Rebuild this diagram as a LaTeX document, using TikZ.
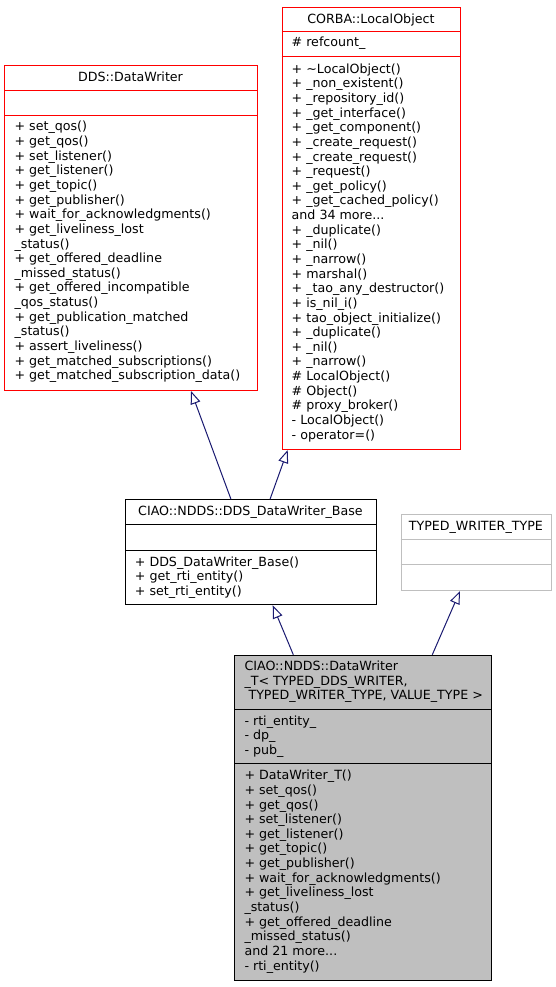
\documentclass[tikz,border=0pt]{standalone}
\usepackage{fontspec}
\setmainfont{DejaVu Sans}
\usetikzlibrary{arrows.meta}
\definecolor{edgeblue}{HTML}{191970}
\definecolor{boxgray}{HTML}{BFBFBF}
\newcommand{\mdots}{...}
\tikzset{
  classbox/.style={draw, line width=1pt, inner sep=0pt, anchor=north west},
  member/.style={anchor=base west, inner sep=0pt},
  classname/.style={anchor=base, inner sep=0pt},
  inherit/.style={edgeblue, line width=1pt, -{Triangle[open, length=13pt, width=10pt]}},
}
\begin{document}
\begin{tikzpicture}[x=1pt, y=-1pt, font=\fontsize{12.65}{14.63}\selectfont]
      \def\dy{14.63}
      \useasboundingbox (0,0) rectangle (556,987);
      %
      % DDS::DataWriter
      \node[classbox, draw=red, minimum width=252.4pt, minimum height=325pt] (dw) at (4.3,65) {};
      \draw[red, line width=1pt] (dw.west |- 0,90.3) -- (dw.east |- 0,90.3);
      \draw[red, line width=1pt] (dw.west |- 0,116) -- (dw.east |- 0,116);
      \node[classname] (dwname) at (130.5,81.7) {DDS::DataWriter};
      \foreach \m [count=\i from 0] in {+ set\_qos(), + get\_qos(), + set\_listener(),
          + get\_listener(), + get\_topic(), + get\_publisher(), + wait\_for\_acknowledgments(),
          + get\_liveliness\_lost, \_status(), + get\_offered\_deadline, \_missed\_status(),
          + get\_offered\_incompatible, \_qos\_status(), + get\_publication\_matched,
          \_status(), + assert\_liveliness(), + get\_matched\_subscriptions(),
          + get\_matched\_subscription\_data()}
        \node[member] (dwm\i) at (14.4,{131+\i*\dy}) {\m};
      %
      % CORBA::LocalObject
      \node[classbox, draw=red, minimum width=178.3pt, minimum height=442.3pt] (corba) at (281.7,6.7) {};
      \draw[red, line width=1pt] (corba.west |- 0,32) -- (corba.east |- 0,32);
      \draw[red, line width=1pt] (corba.west |- 0,57) -- (corba.east |- 0,57);
      \node[classname] (corbaname) at (370.85,23.3) {CORBA::LocalObject};
      \node[member] (corbaa0) at (291.5,46.7) {\# refcount\_};
      \foreach \m [count=\i from 0] in {+ \textasciitilde LocalObject(), + \_non\_existent(),
          + \_repository\_id(), + \_get\_interface(), + \_get\_component(),
          + \_create\_request(), + \_create\_request(), + \_request(), + \_get\_policy(),
          + \_get\_cached\_policy(), and 34 more\mdots, + \_duplicate(), + \_nil(),
          + \_narrow(), + marshal(), + \_tao\_any\_destructor(), + is\_nil\_i(),
          + tao\_object\_initialize(), + \_duplicate(), + \_nil(), + \_narrow(),
          \# LocalObject(), \# Object(), \# proxy\_broker(), - LocalObject(),
          - operator=()}
        \node[member] (corbam\i) at (291.5,{73.3+\i*\dy}) {\m};
      %
      % CIAO::NDDS::DDS_DataWriter_Base
      \node[classbox, minimum width=251pt, minimum height=105pt] (base) at (125,499.3) {};
      \draw[line width=1pt] (base.west |- 0,524.7) -- (base.east |- 0,524.7);
      \draw[line width=1pt] (base.west |- 0,550) -- (base.east |- 0,550);
      \node[classname] (basename) at (250.5,515) {CIAO::NDDS::DDS\_DataWriter\_Base};
      \foreach \m [count=\i from 0] in {+ DDS\_DataWriter\_Base(), + get\_rti\_entity(),
          + set\_rti\_entity()}
        \node[member] (basem\i) at (134.7,{566+\i*\dy}) {\m};
      %
      % TYPED_WRITER_TYPE
      \node[classbox, draw=boxgray, minimum width=150.3pt, minimum height=76pt] (twt) at (400.7,514) {};
      \draw[boxgray, line width=1pt] (twt.west |- 0,539) -- (twt.east |- 0,539);
      \draw[boxgray, line width=1pt] (twt.west |- 0,564.3) -- (twt.east |- 0,564.3);
      \node[classname] (twtname) at (475.85,530.7) {TYPED\_WRITER\_TYPE};
      %
      % CIAO::NDDS::DataWriter_T
      \node[classbox, fill=boxgray, minimum width=256.4pt, minimum height=325.3pt] (dwt) at (234.3,654.7) {};
      \draw[line width=1pt] (dwt.west |- 0,709.7) -- (dwt.east |- 0,709.7);
      \draw[line width=1pt] (dwt.west |- 0,763.7) -- (dwt.east |- 0,763.7);
      \foreach \m [count=\i from 0] in {CIAO::NDDS::DataWriter, {\_T< TYPED\_DDS\_WRITER,},
          {\ TYPED\_WRITER\_TYPE, VALUE\_TYPE >}}
        \node[member] (dwtname\i) at (244.3,{670.7+\i*\dy}) {\m};
      \foreach \m [count=\i from 0] in {- rti\_entity\_, - dp\_, - pub\_}
        \node[member] (dwta\i) at (244.3,{725.2+\i*\dy}) {\m};
      \foreach \m [count=\i from 0] in {+ DataWriter\_T(), + set\_qos(), + get\_qos(),
          + set\_listener(), + get\_listener(), + get\_topic(), + get\_publisher(),
          + wait\_for\_acknowledgments(), + get\_liveliness\_lost, \_status(),
          + get\_offered\_deadline, \_missed\_status(), and 21 more\mdots, - rti\_entity()}
        \node[member] (dwtm\i) at (244.3,{779.8+\i*\dy}) {\m};
      %
      % inheritance
      \draw[inherit] (dwt.north -| 293.3,0) -- (base.south -| 272.7,0);
      \draw[inherit] (dwt.north -| 432.3,0) -- (twt.south -| 460,0);
      \draw[inherit] (base.north -| 231,0) -- (dw.south -| 191,0);
      \draw[inherit] (base.north -| 270,0) -- (corba.south -| 287.7,0);
      %
    \end{tikzpicture}
\end{document}
